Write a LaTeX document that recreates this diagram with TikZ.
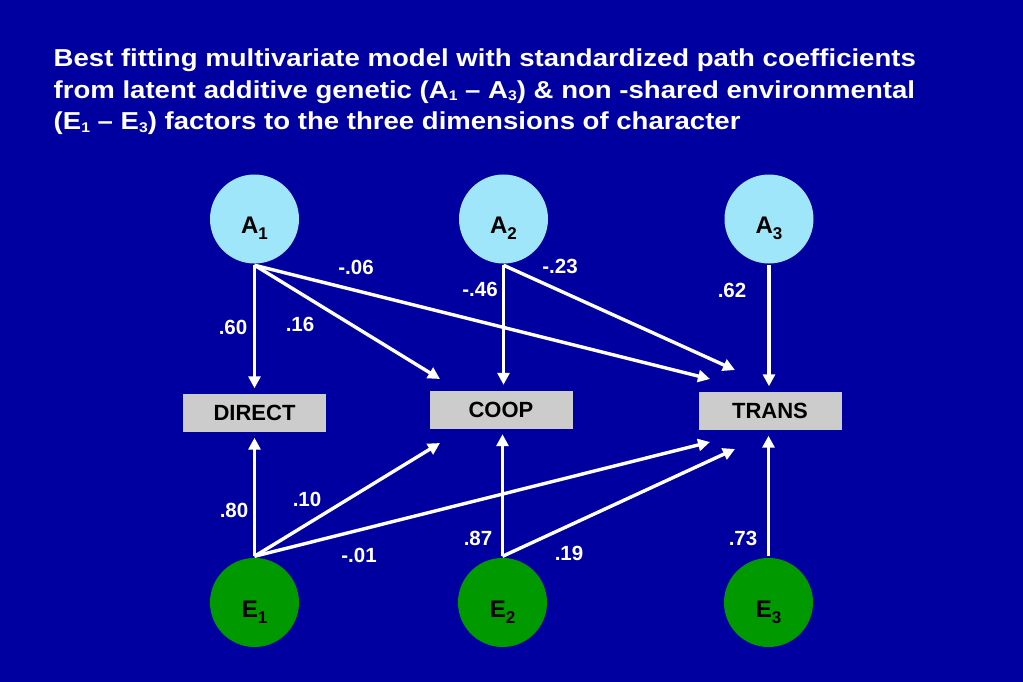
\documentclass[tikz,border=0pt]{standalone}
\usepackage{fontspec}
\setmainfont{Liberation Sans}
\newfontfamily\titlefont{Liberation Sans}[FakeStretch=1.125]
\usetikzlibrary{arrows.meta}
\definecolor{slide}{RGB}{0,0,160}
\definecolor{genetic}{RGB}{160,230,250}
\definecolor{environ}{RGB}{0,153,0}
\definecolor{boxgray}{RGB}{204,204,204}
\newcommand\lsub[1]{\raisebox{-6pt}{\fontsize{17}{19}\selectfont #1}}
\newcommand\tsub[1]{\raisebox{-2.5pt}{\fontsize{14}{16}\selectfont #1}}

\begin{document}
\begin{tikzpicture}[x=1pt, y=-1pt, ->, >={Triangle[length=12pt,width=12pt]},
      line width=3.4pt, white,
      every node/.append style={inner sep=0pt}]
    \tikzstyle{factor} = [circle, minimum size=89pt, text=black,
      text height=29pt, text depth=0pt, font=\fontsize{24}{28}\selectfont\bfseries]
    \tikzstyle{dimbox} = [rectangle, fill=boxgray, text=black, minimum width=143pt,
      minimum height=38pt, font=\fontsize{22}{26}\selectfont\bfseries]
    \tikzstyle{coef} = [text=white, font=\fontsize{20.5}{24}\selectfont\bfseries]
    \fill[slide] (0,0) rectangle (1023,682);
    \node (title) [anchor=north west, align=left, text=white,
      font=\titlefont\fontsize{24.5}{31.6}\selectfont\bfseries] at (52,47)
      {Best fitting multivariate model with standardized path coefficients\\
       from latent additive genetic (A\tsub{1} – A\tsub{3}) \& non -shared environmental\\
       (E\tsub{1} – E\tsub{3}) factors to the three dimensions of character};
    % factors
    \node (A1) [factor, fill=genetic] at (254.5,219) {A\lsub{1}};
    \node (A2) [factor, fill=genetic] at (503.5,219) {A\lsub{2}};
    \node (A3) [factor, fill=genetic] at (769,219) {A\lsub{3}};
    \node (E1) [factor, fill=environ] at (254.5,602.5) {E\lsub{1}};
    \node (E2) [factor, fill=environ] at (502.5,602.5) {E\lsub{2}};
    \node (E3) [factor, fill=environ] at (768.5,602.5) {E\lsub{3}};
    % dimensions
    \node (direct) [dimbox] at (254.5,413) {DIRECT};
    \node (coop) [dimbox] at (501,409.5) {COOP};
    \node (trans) [dimbox] at (770,411) {TRANS};
    \coordinate (coopA) at (440,379);
    \coordinate (coopE) at (440,443);
    \coordinate (transA1) at (710,379);
    \coordinate (transA2) at (735,370);
    \coordinate (transE1) at (710,442);
    \coordinate (transE2) at (735,449);
    % paths
    \draw[shorten >=4pt] (A1.south) -- (A1.south |- direct.north);
    \draw (A1.south) -- (coopA);
    \draw (A1.south) -- (transA1);
    \draw[shorten >=4pt] (A2.south) -- (A2.south |- coop.north);
    \draw (A2.south) -- (transA2);
    \draw[shorten >=4pt] (A3.south) -- (A3.south |- trans.north);
    \draw[shorten >=4pt] (E1.north) -- (E1.north |- direct.south);
    \draw (E1.north) -- (coopE);
    \draw (E1.north) -- (transE1);
    \draw[shorten >=4pt] (E2.north) -- (E2.north |- coop.south);
    \draw (E2.north) -- (transE2);
    \draw[shorten >=4pt] (E3.north) -- (E3.north |- trans.south);
    % coefficients
    \node (a11) [coef] at (233,327) {.60};
    \node (a12) [coef] at (300,324) {.16};
    \node (a13) [coef] at (356,267) {-.06};
    \node (a22) [coef] at (480,289) {-.46};
    \node (a23) [coef] at (560,266) {-.23};
    \node (a33) [coef] at (732,290) {.62};
    \node (e11) [coef] at (234,510) {.80};
    \node (e12) [coef] at (307,499) {.10};
    \node (e13) [coef] at (359,555) {-.01};
    \node (e22) [coef] at (478,538) {.87};
    \node (e23) [coef] at (569,553) {.19};
    \node (e33) [coef] at (743,538) {.73};
\end{tikzpicture}
\end{document}
